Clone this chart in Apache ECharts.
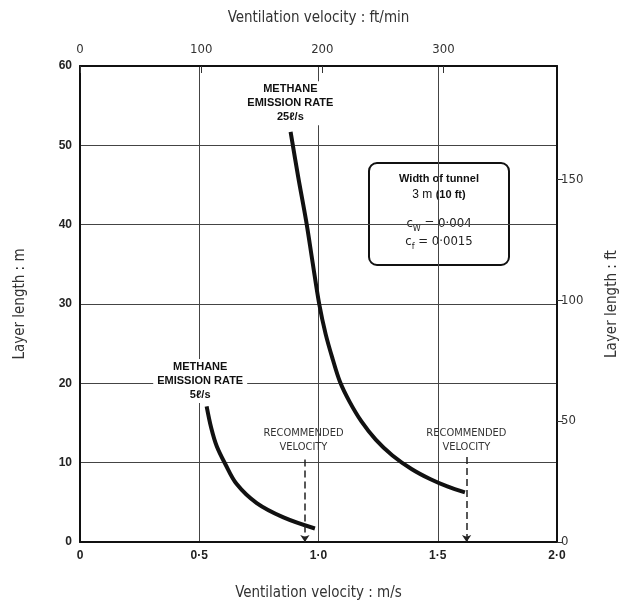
<!DOCTYPE html>
<html>
<head>
<meta charset="utf-8">
<script src="https://cdn.jsdelivr.net/npm/echarts@6/dist/echarts.min.js"></script>
<style>
    html, body { margin: 0; padding: 0; background: #fff; }
    #main { width: 622px; height: 602px; }
</style>
</head>
<body>
<div id="main"></div>
<script>
// curves: velocity m/s, layer length m
var velocity5 = [0.531, 0.55, 0.573, 0.608, 0.657, 0.741, 0.853, 0.985];
var length5 = [17.1, 14.4, 12.1, 9.9, 7.3, 4.9, 3.1, 1.7];
var velocity25 = [0.883, 0.915, 0.948, 0.975, 1.003, 1.03, 1.06, 1.09, 1.13, 1.18, 1.24, 1.31, 1.39, 1.47, 1.54, 1.614];
var length25 = [51.7, 46.0, 40.5, 35.3, 30.0, 26.2, 23.0, 20.2, 17.7, 15.2, 12.9, 10.9, 9.2, 7.9, 7.0, 6.25];

// recommended velocity (m/s) and where the dashed arrow starts (m)
var recommendedVelocity = [0.943, 1.621];
var arrowTop = [10.4, 10.7];

var msTickLabels = ['0', '0·5', '1·0', '1·5', '2·0'];
var ftMinTickLabels = ['0', '100', '200', '300'];
var mTickLabels = ['0', '10', '20', '30', '40', '50', '60'];
var ftTickLabels = ['0', '50', '100', '150'];

var MS_TO_FTMIN = 196.85;
var M_TO_FT = 3.2808;

function zip(xs, ys) {
    return xs.map(function (x, i) { return [x, ys[i]]; });
}

function arrowLine(i) {
    return [{ coord: [recommendedVelocity[i], arrowTop[i]] }, { coord: [recommendedVelocity[i], 0] }];
}

// text placed at a data point, no visible symbol
function note(coord, text, style) {
    return {
        coord: coord,
        symbol: 'rect', symbolSize: 1,
        itemStyle: { color: 'rgba(0,0,0,0)' },
        label: Object.assign({ show: true, position: 'inside', formatter: text }, style)
    };
}

var labelFont = 'Liberation Sans';
var condFont = 'DejaVu Sans Condensed';

var methaneStyle = {
    backgroundColor: '#fff', padding: [1, 4],
    fontFamily: labelFont, fontWeight: 'bold', fontSize: 11, lineHeight: 14, color: '#111'
};
var recStyle = { fontFamily: condFont, fontSize: 11, lineHeight: 14, color: '#333' };

var myChart = echarts.init(document.getElementById('main'));

var option = {
    backgroundColor: '#fff',
    animation: false,
    grid: { left: 80, right: 65, top: 66, bottom: 60, outerBoundsMode: 'none', containLabel: false },
    xAxis: [{
        type: 'value', position: 'bottom',
        min: 0, max: 2, interval: 0.5,
        name: 'Ventilation velocity : m/s',
        nameLocation: 'middle', nameGap: 44,
        nameTextStyle: { fontFamily: condFont, fontSize: 15, color: '#333' },
        axisLine: { onZero: false, lineStyle: { color: '#111', width: 2 } },
        axisTick: { show: false },
        axisLabel: {
            margin: 8, fontFamily: labelFont, fontWeight: 'bold', fontSize: 12, color: '#222',
            formatter: function (v) { return msTickLabels[Math.round(v / 0.5)]; }
        },
        splitLine: { show: true, lineStyle: { color: '#444', width: 1 } }
    }, {
        type: 'value', position: 'top',
        min: 0, max: 2 * MS_TO_FTMIN, interval: 100,
        name: 'Ventilation velocity : ft/min',
        nameLocation: 'middle', nameGap: 40,
        nameTextStyle: { fontFamily: condFont, fontSize: 15, color: '#333' },
        axisLine: { onZero: false, lineStyle: { color: '#111', width: 2 } },
        axisTick: { show: true, inside: true, length: 7, lineStyle: { color: '#333' } },
        axisLabel: {
            margin: 10, fontFamily: condFont, fontSize: 13, color: '#333', showMaxLabel: false,
            formatter: function (v) { return ftMinTickLabels[Math.round(v / 100)] || ''; }
        },
        splitLine: { show: false }
    }],
    yAxis: [{
        type: 'value', position: 'left',
        min: 0, max: 60, interval: 10,
        name: 'Layer length : m',
        nameLocation: 'middle', nameGap: 52,
        nameTextStyle: { fontFamily: condFont, fontSize: 15, color: '#333' },
        axisLine: { onZero: false, lineStyle: { color: '#111', width: 2 } },
        axisTick: { show: false },
        axisLabel: {
            margin: 8, fontFamily: labelFont, fontWeight: 'bold', fontSize: 12, color: '#222',
            formatter: function (v) { return mTickLabels[Math.round(v / 10)]; }
        },
        splitLine: { show: true, lineStyle: { color: '#444', width: 1 } }
    }, {
        type: 'value', position: 'right',
        min: 0, max: 60 * M_TO_FT, interval: 50,
        name: 'Layer length : ft',
        nameLocation: 'middle', nameGap: 48,
        nameTextStyle: { fontFamily: condFont, fontSize: 15, color: '#333' },
        axisLine: { onZero: false, lineStyle: { color: '#111', width: 2 } },
        axisTick: { show: true, length: 6, lineStyle: { color: '#333' } },
        axisLabel: {
            margin: 4, fontFamily: condFont, fontSize: 13, color: '#333', showMaxLabel: false,
            formatter: function (v) { return ftTickLabels[Math.round(v / 50)] || ''; }
        },
        splitLine: { show: false }
    }],
    series: [{
        name: '5 l/s',
        type: 'line',
        xAxisIndex: 0, yAxisIndex: 0,
        data: zip(velocity5, length5),
        smooth: 0.35,
        showSymbol: false,
        lineStyle: { color: '#111', width: 4 },
        markLine: {
            silent: true, symbol: ['none', 'arrow'], symbolSize: 7,
            label: { show: false },
            lineStyle: { color: '#222', width: 1.5, type: [7, 4] },
            data: [arrowLine(0)]
        },
        markPoint: {
            silent: true,
            data: [
                note([0.504, 20.3], 'METHANE\nEMISSION RATE\n5ℓ/s', methaneStyle),
                note([0.937, 12.9], 'RECOMMENDED\nVELOCITY', recStyle)
            ]
        }
    }, {
        name: '25 l/s',
        type: 'line',
        xAxisIndex: 0, yAxisIndex: 0,
        data: zip(velocity25, length25),
        smooth: 0.35,
        showSymbol: false,
        lineStyle: { color: '#111', width: 4 },
        markLine: {
            silent: true, symbol: ['none', 'arrow'], symbolSize: 7,
            label: { show: false },
            lineStyle: { color: '#222', width: 1.5, type: [7, 4] },
            data: [arrowLine(1)]
        },
        markPoint: {
            silent: true,
            data: [
                note([0.882, 55.3], 'METHANE\nEMISSION RATE\n25ℓ/s', methaneStyle),
                note([1.62, 12.9], 'RECOMMENDED\nVELOCITY', recStyle)
            ]
        }
    }],
    graphic: [{
        type: 'group',
        left: 368, top: 162,
        children: [{
            type: 'rect',
            shape: { x: 0, y: 0, width: 140, height: 102, r: 8 },
            style: { fill: '#fff', stroke: '#111', lineWidth: 2 }
        }, {
            type: 'text', x: 70, y: 10,
            style: {
                text: 'Width of tunnel', align: 'center',
                font: 'bold 11px "Liberation Sans"', fill: '#111'
            }
        }, {
            type: 'text', x: 70, y: 26,
            style: {
                text: '{n|3 m} {b|(10 ft)}', align: 'center',
                rich: {
                    n: { fontFamily: labelFont, fontSize: 12, fill: '#111' },
                    b: { fontFamily: labelFont, fontWeight: 'bold', fontSize: 11, fill: '#111' }
                }
            }
        }, {
            type: 'text', x: 70, y: 52,
            style: {
                text: '{n|c}{s|W}{n| = 0·004}', align: 'center',
                rich: {
                    n: { fontFamily: condFont, fontSize: 13, lineHeight: 18, verticalAlign: 'middle', fill: '#222' },
                    s: { fontFamily: condFont, fontSize: 9, lineHeight: 18, verticalAlign: 'bottom', fill: '#222' }
                }
            }
        }, {
            type: 'text', x: 70, y: 70,
            style: {
                text: '{n|c}{s|f}{n| = 0·0015}', align: 'center',
                rich: {
                    n: { fontFamily: condFont, fontSize: 13, lineHeight: 18, verticalAlign: 'middle', fill: '#222' },
                    s: { fontFamily: condFont, fontSize: 9, lineHeight: 18, verticalAlign: 'bottom', fill: '#222' }
                }
            }
        }]
    }]
};

myChart.setOption(option);
</script>
</body>
</html>
